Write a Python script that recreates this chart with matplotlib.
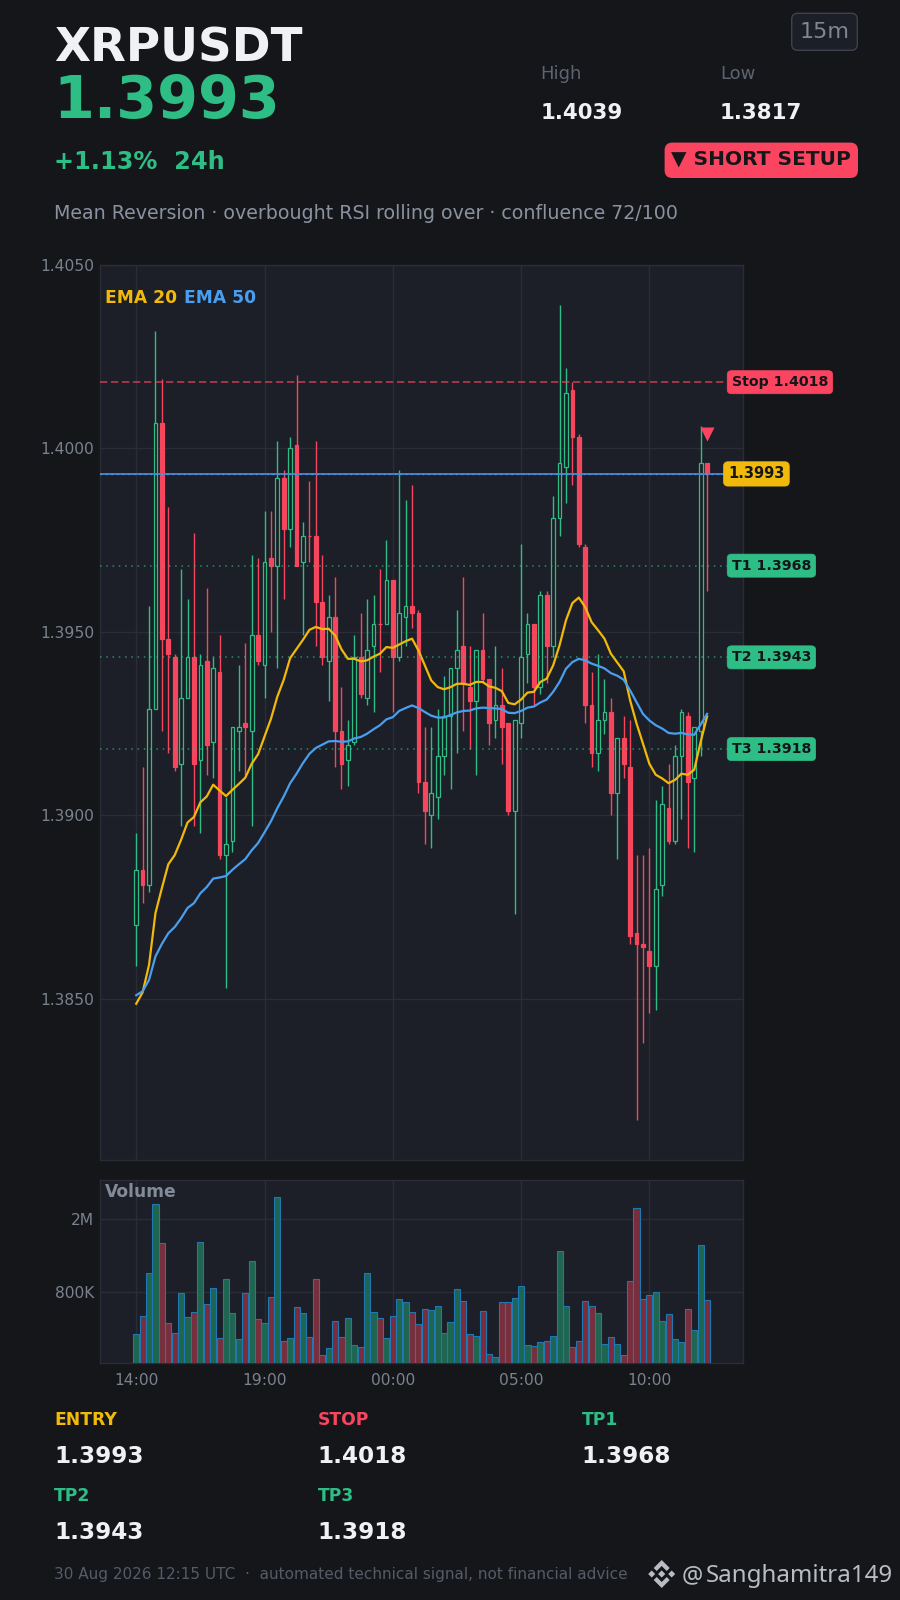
import matplotlib
matplotlib.use("Agg")
import matplotlib.pyplot as plt
from matplotlib.patches import FancyBboxPatch, Polygon
from matplotlib.transforms import blended_transform_factory

plt.rcParams['font.family'] = ['DejaVu Sans']

# candles, one per 15 minutes
opens = [1.3870, 1.3885, 1.3881, 1.3929, 1.4007, 1.3948, 1.3943, 1.3914, 1.3932, 1.3943,
         1.3915, 1.3942, 1.3920, 1.3939, 1.3889, 1.3893, 1.3923, 1.3925, 1.3923, 1.3949,
         1.3941, 1.3970, 1.3968, 1.3992, 1.3978, 1.4001, 1.3969, 1.3976, 1.3976, 1.3958,
         1.3942, 1.3954, 1.3923, 1.3915, 1.3920, 1.3943, 1.3932, 1.3946, 1.3952, 1.3952,
         1.3964, 1.3943, 1.3954, 1.3957, 1.3955, 1.3909, 1.3900, 1.3905, 1.3916, 1.3927,
         1.3940, 1.3946, 1.3935, 1.3931, 1.3945, 1.3937, 1.3926, 1.3930, 1.3925, 1.3901,
         1.3925, 1.3944, 1.3952, 1.3935, 1.3960, 1.3946, 1.3981, 1.3995, 1.4016, 1.4003,
         1.3973, 1.3930, 1.3917, 1.3926, 1.3928, 1.3906, 1.3921, 1.3913, 1.3868, 1.3865,
         1.3863, 1.3859, 1.3881, 1.3902, 1.3893, 1.3916, 1.3927, 1.3910, 1.3923, 1.3996]
highs = [1.3895, 1.3913, 1.3957, 1.4032, 1.4019, 1.3984, 1.3944, 1.3967, 1.3959, 1.3977,
         1.3944, 1.3962, 1.3943, 1.3949, 1.3905, 1.3924, 1.3941, 1.3947, 1.3971, 1.3970,
         1.3983, 1.3983, 1.4002, 1.3994, 1.4003, 1.4020, 1.3980, 1.3991, 1.4002, 1.3971,
         1.3960, 1.3965, 1.3935, 1.3926, 1.3949, 1.3955, 1.3959, 1.3960, 1.3967, 1.3975,
         1.3964, 1.3994, 1.3986, 1.3990, 1.3956, 1.3924, 1.3924, 1.3929, 1.3938, 1.3940,
         1.3956, 1.3965, 1.3946, 1.3945, 1.3955, 1.3937, 1.3946, 1.3940, 1.3925, 1.3926,
         1.3974, 1.3955, 1.3952, 1.3961, 1.3961, 1.3987, 1.4039, 1.4022, 1.4018, 1.4004,
         1.3974, 1.3939, 1.3944, 1.3937, 1.3932, 1.3921, 1.3927, 1.3926, 1.3889, 1.3889,
         1.3891, 1.3904, 1.3908, 1.3914, 1.3919, 1.3929, 1.3928, 1.3924, 1.4006, 1.3996]
lows = [1.3859, 1.3876, 1.3879, 1.3929, 1.3923, 1.3917, 1.3912, 1.3897, 1.3932, 1.3897,
        1.3895, 1.3911, 1.3910, 1.3888, 1.3853, 1.3890, 1.3912, 1.3911, 1.3897, 1.3941,
        1.3932, 1.3950, 1.3940, 1.3959, 1.3973, 1.3968, 1.3949, 1.3969, 1.3946, 1.3941,
        1.3931, 1.3913, 1.3907, 1.3908, 1.3919, 1.3932, 1.3930, 1.3928, 1.3939, 1.3952,
        1.3928, 1.3942, 1.3946, 1.3951, 1.3906, 1.3892, 1.3891, 1.3899, 1.3911, 1.3907,
        1.3917, 1.3923, 1.3918, 1.3911, 1.3936, 1.3919, 1.3921, 1.3914, 1.3900, 1.3873,
        1.3921, 1.3936, 1.3930, 1.3933, 1.3936, 1.3943, 1.3976, 1.3985, 1.3990, 1.3973,
        1.3925, 1.3913, 1.3912, 1.3922, 1.3900, 1.3888, 1.3910, 1.3865, 1.3817, 1.3838,
        1.3846, 1.3847, 1.3878, 1.3892, 1.3892, 1.3899, 1.3891, 1.3890, 1.3916, 1.3961]
closes = [1.3885, 1.3881, 1.3929, 1.4007, 1.3948, 1.3944, 1.3913, 1.3932, 1.3943, 1.3914,
          1.3941, 1.3919, 1.3940, 1.3889, 1.3892, 1.3924, 1.3924, 1.3924, 1.3949, 1.3942,
          1.3969, 1.3968, 1.3992, 1.3978, 1.4000, 1.3968, 1.3976, 1.3976, 1.3958, 1.3943,
          1.3954, 1.3923, 1.3914, 1.3919, 1.3943, 1.3933, 1.3945, 1.3952, 1.3952, 1.3964,
          1.3943, 1.3955, 1.3957, 1.3955, 1.3909, 1.3901, 1.3906, 1.3916, 1.3927, 1.3940,
          1.3945, 1.3936, 1.3931, 1.3945, 1.3937, 1.3925, 1.3930, 1.3924, 1.3901, 1.3926,
          1.3943, 1.3952, 1.3935, 1.3960, 1.3946, 1.3981, 1.3996, 1.4015, 1.4003, 1.3974,
          1.3930, 1.3917, 1.3926, 1.3928, 1.3906, 1.3921, 1.3914, 1.3867, 1.3865, 1.3864,
          1.3859, 1.3880, 1.3903, 1.3893, 1.3916, 1.3928, 1.3909, 1.3924, 1.3996, 1.3993]

ema20 = [1.38486, 1.38517, 1.38592, 1.38733, 1.38801, 1.38866, 1.38891, 1.38933, 1.38980, 1.38995,
         1.39035, 1.39051, 1.39083, 1.39067, 1.39052, 1.39069, 1.39085, 1.39102, 1.39140, 1.39166,
         1.39214, 1.39262, 1.39323, 1.39369, 1.39428, 1.39453, 1.39478, 1.39505, 1.39513, 1.39507,
         1.39508, 1.39490, 1.39452, 1.39426, 1.39426, 1.39419, 1.39422, 1.39432, 1.39440, 1.39458,
         1.39456, 1.39465, 1.39474, 1.39481, 1.39449, 1.39408, 1.39367, 1.39349, 1.39343, 1.39349,
         1.39358, 1.39358, 1.39355, 1.39363, 1.39363, 1.39351, 1.39347, 1.39338, 1.39306, 1.39302,
         1.39315, 1.39334, 1.39336, 1.39363, 1.39372, 1.39408, 1.39463, 1.39531, 1.39578, 1.39593,
         1.39567, 1.39526, 1.39504, 1.39481, 1.39440, 1.39416, 1.39392, 1.39313, 1.39250, 1.39195,
         1.39140, 1.39110, 1.39100, 1.39087, 1.39096, 1.39113, 1.39110, 1.39124, 1.39200, 1.39269]
ema50 = [1.38509, 1.38520, 1.38551, 1.38615, 1.38649, 1.38678, 1.38695, 1.38719, 1.38747, 1.38760,
         1.38787, 1.38804, 1.38827, 1.38830, 1.38834, 1.38851, 1.38866, 1.38880, 1.38904, 1.38924,
         1.38953, 1.38983, 1.39019, 1.39051, 1.39087, 1.39113, 1.39142, 1.39167, 1.39183, 1.39192,
         1.39201, 1.39202, 1.39200, 1.39201, 1.39209, 1.39213, 1.39222, 1.39234, 1.39245, 1.39261,
         1.39267, 1.39284, 1.39292, 1.39299, 1.39292, 1.39281, 1.39271, 1.39266, 1.39266, 1.39273,
         1.39280, 1.39284, 1.39285, 1.39291, 1.39293, 1.39292, 1.39291, 1.39289, 1.39279, 1.39278,
         1.39284, 1.39293, 1.39296, 1.39307, 1.39315, 1.39336, 1.39363, 1.39399, 1.39417, 1.39426,
         1.39422, 1.39413, 1.39407, 1.39400, 1.39387, 1.39380, 1.39369, 1.39340, 1.39308, 1.39276,
         1.39258, 1.39245, 1.39236, 1.39224, 1.39222, 1.39224, 1.39220, 1.39219, 1.39247, 1.39276]
# volume in thousands
volumes = [472, 592, 1016, 2416, 1481, 542, 478, 790, 585, 622,
           1500, 688, 841, 449, 942, 615, 443, 790, 1181, 570,
           542, 751, 2664, 432, 449, 663, 615, 454, 942, 362,
           396, 556, 454, 577, 411, 401, 1016, 622, 577, 449,
           592, 733, 706, 622, 535, 646, 638, 671, 478, 549,
           830, 714, 472, 460, 630, 367, 354, 706, 706, 742,
           862, 411, 406, 427, 432, 460, 1338, 671, 401, 432,
           714, 671, 615, 416, 454, 416, 362, 919, 2298, 733,
           770, 800, 556, 607, 443, 427, 646, 496, 1443, 723]

time_pos = [0, 20, 40, 60, 80]
time_labels = ['14:00', '19:00', '00:00', '05:00', '10:00']
price_ticks = [1.3850, 1.3900, 1.3950, 1.4000, 1.4050]
vol_ticks = [800, 2000]
vol_tick_labels = ['800K', '2M']

entry = 1.3993
stop = 1.4018
targets = [1.3968, 1.3943, 1.3918]
signal_price = 1.4004

BG = '#14161a'
PANEL = '#1c1f27'
GRID = '#2a2d36'
GREEN = '#2ebd85'
RED = '#f6465d'
BADGE_RED = '#fb4560'
YELLOW = '#f0b90b'
BLUE = '#4a9eee'
DARK = '#14161a'
WHITE = '#f0f1f4'
TICK = '#7b828e'

W, H = 900, 1600
fig = plt.figure(figsize=(W / 100, H / 100), dpi=100, facecolor=BG)


def axes_px(left, top, right, bottom):
    return fig.add_axes([left / W, 1 - bottom / H, (right - left) / W, (bottom - top) / H])


ax = axes_px(100.3, 264.8, 743, 1160)
vol = axes_px(100.3, 1179.5, 743, 1363.3)

xs = list(range(len(closes)))
for a in (ax, vol):
    a.set_facecolor(PANEL)
    a.set_xlim(-5.6, 94.6)
    a.grid(True, color=GRID, lw=1)
    a.set_axisbelow(True)
    a.set_xticks(time_pos)
    for s in a.spines.values():
        s.set_color(GRID)
        s.set_linewidth(1)
    a.tick_params(length=0, labelsize=11.2, labelcolor=TICK, pad=4.5)

# price panel
for i in xs:
    col = GREEN if closes[i] > opens[i] else RED
    ax.vlines(i, lows[i], highs[i], color=col, lw=1, zorder=2)
    body = min(opens[i], closes[i])
    size = abs(closes[i] - opens[i])
    if closes[i] > opens[i]:
        ax.bar(i, size, 0.58, bottom=body, facecolor=PANEL, edgecolor=col, lw=0.9, zorder=3)
    else:
        ax.bar(i, size, 0.58, bottom=body, facecolor=col, edgecolor=col, lw=0.9, zorder=3)

ax.plot(xs, ema20, color=YELLOW, lw=1.6, zorder=4)
ax.plot(xs, ema50, color=BLUE, lw=1.6, zorder=4)

ax.axhline(stop, color=BADGE_RED, lw=1.2, ls=(0, (4.4, 2.2)), alpha=0.7, zorder=5)
ax.axhline(entry, color='#4488dc', lw=1.3, zorder=5)
ax.axhline(entry, color='#7fb5f0', lw=1, ls=(0, (1, 3)), alpha=0.5, zorder=5)
for t in targets:
    ax.axhline(t, color=GREEN, lw=1.1, ls=(0, (1, 3.1)), alpha=0.7, zorder=5)
ax.plot([xs[-1]], [signal_price], marker='v', ms=10, color=BADGE_RED, mec='none', zorder=6)

ax.set_ylim(1.3806, 1.4050)
ax.set_yticks(price_ticks)
ax.set_yticklabels(['%.4f' % p for p in price_ticks])
ax.tick_params(labelbottom=False)

# badges sit on the right, half out of the panel
trans = blended_transform_factory(ax.transAxes, ax.transData)
badges = [('Stop %.4f' % stop, stop, BADGE_RED, 0.9825, 10.2)]
badges += [('T%d %.4f' % (n + 1, t), t, GREEN, 0.9825, 10.2) for n, t in enumerate(targets)]
badges += [('%.4f' % entry, entry, YELLOW, 0.977, 10.5)]
for label, y, col, x, size in badges:
    ax.text(x, y, label, transform=trans, ha='left', va='center', fontsize=size, fontweight='bold',
            color=DARK, zorder=8, clip_on=False,
            bbox=dict(boxstyle='round,pad=0.32,rounding_size=0.3', fc=col, ec=col, lw=0.5))

# volume panel
vol_colors = ['#1f6650' if c > o else '#7a2d3a' for o, c in zip(opens, closes)]
vol.bar(xs, volumes, 0.95, color=vol_colors, edgecolor='#1f77b4', lw=0.8, zorder=3)
vol.set_yscale('log')
vol.set_ylim(328, 3300)
vol.set_yticks(vol_ticks)
vol.set_yticklabels(vol_tick_labels)
vol.minorticks_off()
vol.set_xticklabels(time_labels)
vol.tick_params(axis='x', pad=7)

# everything else placed in picture pixels
top = fig.add_axes([0, 0, 1, 1], zorder=10)
top.set_xlim(0, W)
top.set_ylim(H, 0)
top.axis('off')


def put(x, y, s, size, color, weight='normal', **kw):
    top.text(x, y, s, fontsize=size, color=color, fontweight=weight, va='baseline', **kw)


def badge(x0, y0, x1, y1, r, fc, ec):
    top.add_patch(FancyBboxPatch((x0 + r, y0 + r), x1 - x0 - 2 * r, y1 - y0 - 2 * r,
                                 boxstyle='round,pad=%f,rounding_size=%f' % (r, r),
                                 fc=fc, ec=ec, lw=1))


put(54, 61, 'XRPUSDT', 33.7, WHITE, 'bold')
put(53, 118, '1.3993', 42.4, GREEN, 'bold')
put(54, 169, '+1.13%  24h', 17.3, GREEN, 'bold')
put(54, 219, 'Mean Reversion · overbought RSI rolling over · confluence 72/100', 13.7, '#8a92a0')

put(540.7, 78.7, 'High', 13, '#5d6470')
put(720, 78.7, 'Low', 13, '#5d6470')
put(540.7, 119, '1.4039', 15.3, WHITE, 'bold')
put(720, 119, '1.3817', 15.4, WHITE, 'bold')

badge(791.7, 13.3, 857.3, 50.3, 6, PANEL, '#3d424c')
put(824.5, 38.5, '15m', 16, '#7f8793', ha='center')
badge(665.3, 143.3, 857.3, 177.3, 7, BADGE_RED, BADGE_RED)
put(761, 165, '▼ SHORT SETUP', 14.5, DARK, 'bold', ha='center')

put(105, 303, 'EMA 20', 12.3, YELLOW, 'bold')
put(184.5, 303, 'EMA 50', 12.3, BLUE, 'bold')
put(105, 1197, 'Volume', 12.3, '#838b98', 'bold')

# trade levels under the chart
cols = [54, 317.5, 581.5]
levels = [('ENTRY', entry, YELLOW, cols[0], 1424.6), ('STOP', stop, BADGE_RED, cols[1], 1424.6),
          ('TP1', targets[0], GREEN, cols[2], 1424.6), ('TP2', targets[1], GREEN, cols[0], 1501),
          ('TP3', targets[2], GREEN, cols[1], 1501)]
for name, value, col, x, y in levels:
    put(x, y, name, 12.3, col, 'bold')
    put(x, y + 38, '%.4f' % value, 16.7, WHITE, 'bold')

put(54, 1579, '30 Aug 2026 12:15 UTC  ·  automated technical signal, not financial advice', 11, '#565c67')

# watermark
cx, cy = 661.7, 1574
for dx, r in [(0, 3.6), (-10, 3.5), (10, 3.5)]:
    top.add_patch(Polygon([(cx + dx - r, cy), (cx + dx, cy - r), (cx + dx + r, cy), (cx + dx, cy + r)],
                          fc='#b9bdc3', ec='none'))
for sy in (-1, 1):
    top.add_patch(Polygon([(cx - 8, cy + sy * 6), (cx, cy + sy * 14), (cx + 8, cy + sy * 6),
                           (cx + 5, cy + sy * 3), (cx, cy + sy * 8), (cx - 5, cy + sy * 3)],
                          fc='#b9bdc3', ec='none'))
put(681.7, 1582.3, '@', 17, '#b9bdc3', family='Noto Sans')
put(705.5, 1582.3, 'Sanghamitra149', 17.3, '#b9bdc3', family='Noto Sans')

fig.savefig('out.png', dpi=100, facecolor=BG)
